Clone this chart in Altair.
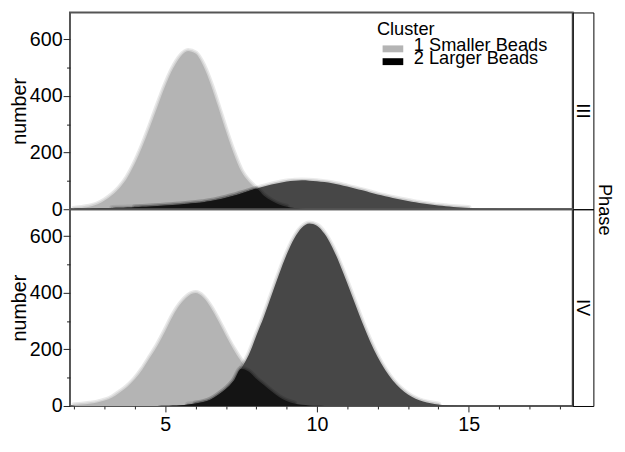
import altair as alt
import pandas as pd

FONT = "Liberation Sans"
C1 = "1 Smaller Beads"
C2 = "2 Larger Beads"

x_pos = [2.0, 2.25, 2.5, 2.75, 3.0, 3.25, 3.5, 3.75, 4.0, 4.25, 4.5, 4.75,
         5.0, 5.25, 5.5, 5.75, 6.0, 6.25, 6.5, 6.75, 7.0, 7.25, 7.5, 7.75,
         8.0, 8.25, 8.5, 8.75, 9.0, 9.25, 9.5, 9.75, 10.0, 10.25, 10.5, 10.75,
         11.0, 11.25, 11.5, 11.75, 12.0, 12.25, 12.5, 12.75, 13.0, 13.25, 13.5,
         13.75, 14.0, 14.25, 14.5, 14.75, 15.0, 15.25, 15.5, 15.75, 16.0, 16.25,
         16.5, 16.75, 17.0, 17.25, 17.5, 17.75, 18.0]

# Phase III
iii_small = [2.3, 4.6, 9, 17, 31, 50, 76, 112, 162, 223, 292, 365, 436, 496, 539, 559,
             550, 508, 441, 360, 276, 199, 135, 98, 72, 48, 30, 17, 9, 4, 2, 1,
             0.4] + [0] * 32
iii_large = [2, 2.5, 3, 3.5, 4, 4.5, 5, 6, 7, 8.5, 10, 11.5, 13, 15, 17, 19.5,
             22, 25, 29, 34.5, 41, 48, 56, 64, 72, 80, 87, 93, 98, 100.5, 102, 101,
             99, 96, 92, 86.5, 80, 73.5, 67, 59.5, 52, 46, 40, 34.5, 29, 24.5, 20, 16.5,
             13, 10.5, 8, 6, 4.5, 3, 2, 1.3, 0.8, 0.5, 0.3, 0.2, 0.1] + [0] * 4
# Phase IV
iv_small = [3, 5, 8, 12, 19, 30, 48, 68, 95, 130, 172, 215, 265, 318, 360, 388,
            399, 384, 348, 300, 248, 200, 158, 122, 96, 74, 52, 32, 18, 9, 4, 2,
            0.8, 0.3] + [0] * 31
iv_large = [0] * 11 + [0.3, 0.7, 1.5, 3, 5.5, 9, 14, 23, 40, 60, 88, 132, 180, 248, 315, 390,
                       465, 535, 592, 630, 645, 637, 608, 562, 502, 434, 363, 293, 229, 173, 127, 90,
                       62, 41, 26, 16, 9.7, 5.6, 3, 1.6, 0.8, 0.4, 0.2] + [0] * 11

x_ticks = [2, 3, 4, 5, 6, 7, 8, 9, 10, 11, 12, 13, 14, 15, 16, 17, 18]
y_ticks = [0, 100, 200, 300, 400, 500, 600]

rows = []
for ph, a, b in [("III", iii_small, iii_large), ("IV", iv_small, iv_large)]:
    for xv, y1, y2 in zip(x_pos, a, b):
        rows.append({"phase": ph, "x": xv, "cluster": C1, "y": y1})
        rows.append({"phase": ph, "x": xv, "cluster": C2, "y": y2})
        rows.append({"phase": ph, "x": xv, "cluster": "both", "y": min(y1, y2)})
df = pd.DataFrame(rows)

PW, PH = 511, 200
xs = alt.Scale(domain=[1.86, 18.43], nice=False, zero=False)
ys = alt.Scale(domain=[0, 695], nice=False, zero=True)


def x_enc(show):
    if show:
        ax = alt.Axis(values=x_ticks,
                      labelExpr="datum.value % 5 === 0 ? datum.label : ''",
                      tickSize={"condition": {"test": "datum.value % 5 !== 0", "value": 3}, "value": 6},
                      labelFontSize=20, labelPadding=3, domain=False, grid=False,
                      labelFlush=False, tickColor="#222", labelColor="black")
        return alt.X("x:Q", scale=xs, axis=ax, title=None)
    return alt.X("x:Q", scale=xs, axis=None)


y_axis = alt.Axis(values=y_ticks,
                  labelExpr="datum.value % 200 === 0 ? datum.label : ''",
                  tickSize={"condition": {"test": "datum.value % 200 !== 0", "value": 3.5}, "value": 7},
                  labelFontSize=20, labelPadding=1, domain=False, grid=False, labelFlush=False,
                  title="number", titleFontSize=20, titleFontWeight="normal", titlePadding=0,
                  tickColor="#222", labelColor="black", titleColor="black")


def panel(ph, show_x, legend):
    base = alt.Chart(df).transform_filter(alt.datum.phase == ph).encode(
        x=x_enc(show_x), y=alt.Y("y:Q", scale=ys, axis=y_axis))

    def soft(cl, color, w, op, cut):
        return base.transform_filter(alt.datum.cluster == cl).transform_filter(
            alt.datum.y > cut).mark_line(color=color, strokeWidth=w, opacity=op,
                                         interpolate="monotone", clip=True, strokeCap="round")

    def area(cl):
        return base.transform_filter(alt.datum.cluster == cl).mark_area(
            interpolate="monotone", opacity=1, clip=True)

    g_area = area(C1)
    b_soft = soft(C2, "#000000", 6, 0.08, 4)
    if legend:
        g_area = g_area.encode(color=alt.Color(
            "cluster:N",
            scale=alt.Scale(domain=[C1], range=["#b4b4b4"]),
            legend=alt.Legend(title="Cluster", orient="none", legendX=312, legendY=7.6,
                              symbolType="M-1,0.14H5V2.14H-1Z", symbolSize=49,
                              symbolOpacity=1, symbolStrokeWidth=0,
                              labelFontSize=18.5, titleFontSize=18.5, titleFontWeight="normal",
                              labelOffset=19, titlePadding=-2.35, padding=0,
                              labelColor="black", titleColor="black")))
        b_soft = b_soft.encode(stroke=alt.Stroke(
            "cluster:N",
            scale=alt.Scale(domain=[C2], range=["#000000"]),
            legend=alt.Legend(title=None, orient="none", legendX=312, legendY=37.25,
                              symbolType="M-1,1H5", symbolSize=49, symbolStrokeWidth=7,
                              symbolOpacity=1, labelFontSize=18.5, labelOffset=19, padding=0,
                              labelColor="black")))
    else:
        g_area = g_area.encode(color=alt.value("#b4b4b4"))

    layers = [
        soft(C1, "#b4b4b4", 6, 0.3, 2),
        soft(C1, "#b4b4b4", 3, 0.4, 2),
        g_area,
        b_soft,
        soft(C2, "#000000", 3, 0.14, 4),
        area(C2).encode(color=alt.value("#474747")),
        soft("both", "#000000", 6, 0.12, 6),
        soft("both", "#000000", 3, 0.2, 6),
        area("both").encode(color=alt.value("#141414")),
    ]
    return alt.layer(*layers).properties(width=PW, height=PH)


def strip(ph, with_title):
    sdf = pd.DataFrame({"phase": [ph]})
    if with_title:
        yax = alt.Axis(orient="right", title="Phase", labels=False, ticks=False, domain=False,
                       titleFontSize=18.5, titleFontWeight="normal", titlePadding=1,
                       titleAngle=90, titleColor="black", titleY=PH)
    else:
        yax = None
    sy = alt.Y("phase:N", scale=alt.Scale(domain=[ph], paddingInner=0, paddingOuter=0),
               axis=yax, title="Phase")
    return alt.Chart(sdf).mark_text(angle=90, fontSize=18.5, color="black").encode(
        y=sy, text="phase:N").properties(
        width=21, height=PH, view=alt.ViewBackground(stroke="black", strokeWidth=1))


chart = alt.concat(panel("III", False, True), strip("III", True),
                   panel("IV", True, False), strip("IV", False),
                   columns=2, spacing=0, bounds="flush").properties(
    padding={"left": 0, "top": 0, "right": 3, "bottom": 0})
chart = chart.configure(font=FONT).configure_view(stroke="#555", strokeWidth=2).configure_axis(
    labelFont=FONT, titleFont=FONT).configure_text(font=FONT).configure_legend(
    labelFont=FONT, titleFont=FONT)

chart.save("out.html", embed_options={"renderer": "svg", "actions": False})
